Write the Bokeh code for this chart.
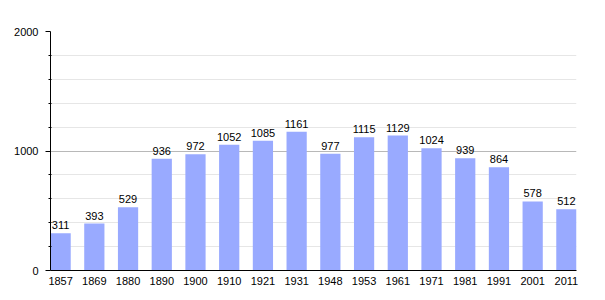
from bokeh.plotting import figure
from bokeh.models import ColumnDataSource, Range1d, FixedTicker
from bokeh.embed import file_html
from bokeh.resources import INLINE
from bokeh.core.properties import value

years = ["1857", "1869", "1880", "1890", "1900", "1910", "1921", "1931",
         "1948", "1953", "1961", "1971", "1981", "1991", "2001", "2011"]
population = [311, 393, 529, 936, 972, 1052, 1085, 1161,
              977, 1115, 1129, 1024, 939, 864, 578, 512]
y_major = [0, 1000, 2000]

xs = list(range(len(years)))
src = ColumnDataSource(dict(x=xs, y=population, lab=[str(v) for v in population]))

p = figure(width=605, height=300, output_backend="svg", toolbar_location=None,
           x_range=Range1d(-0.3, len(years) - 0.7), y_range=Range1d(0, 2000),
           min_border_left=50, min_border_right=29, min_border_top=31, min_border_bottom=30,
           outline_line_color=None)

p.vbar(x="x", top="y", width=0.6, source=src, fill_color="#99aaff", line_color=None)
p.text(x="x", y="y", text="lab", source=src, text_align="center", text_baseline="alphabetic",
       y_offset=-8, text_font=value("Liberation Sans"), text_font_size="11px", text_color="#000000")

# x axis
p.xaxis.ticker = FixedTicker(ticks=xs)
p.xaxis.major_label_overrides = {i: y for i, y in enumerate(years)}
p.xaxis.major_tick_line_color = None
p.xaxis.minor_tick_line_color = None
p.xaxis.axis_line_color = "#000000"
p.xaxis.major_label_text_font = "Liberation Sans"
p.xaxis.major_label_text_font_size = "11px"
p.xaxis.major_label_text_color = "#000000"
p.xaxis.major_label_standoff = 0
p.xgrid.grid_line_color = None

# y axis
minor = [v for v in range(200, 2000, 200) if v not in y_major]
p.yaxis.ticker = FixedTicker(ticks=y_major, minor_ticks=minor)
p.yaxis.axis_line_color = "#000000"
p.yaxis.major_tick_out = 5
p.yaxis.major_tick_in = 0
p.yaxis.minor_tick_out = 2
p.yaxis.minor_tick_in = 1
p.yaxis.major_tick_line_color = "#000000"
p.yaxis.minor_tick_line_color = "#000000"
p.yaxis.major_label_text_font = "Liberation Sans"
p.yaxis.major_label_text_font_size = "11px"
p.yaxis.major_label_text_color = "#000000"
p.yaxis.major_label_standoff = 7
p.ygrid.grid_line_color = "#b8b8b8"
p.ygrid.minor_grid_line_color = "#e6e6e6"
p.ygrid.level = "underlay"

open("out.html", "w").write(file_html(p, INLINE))
